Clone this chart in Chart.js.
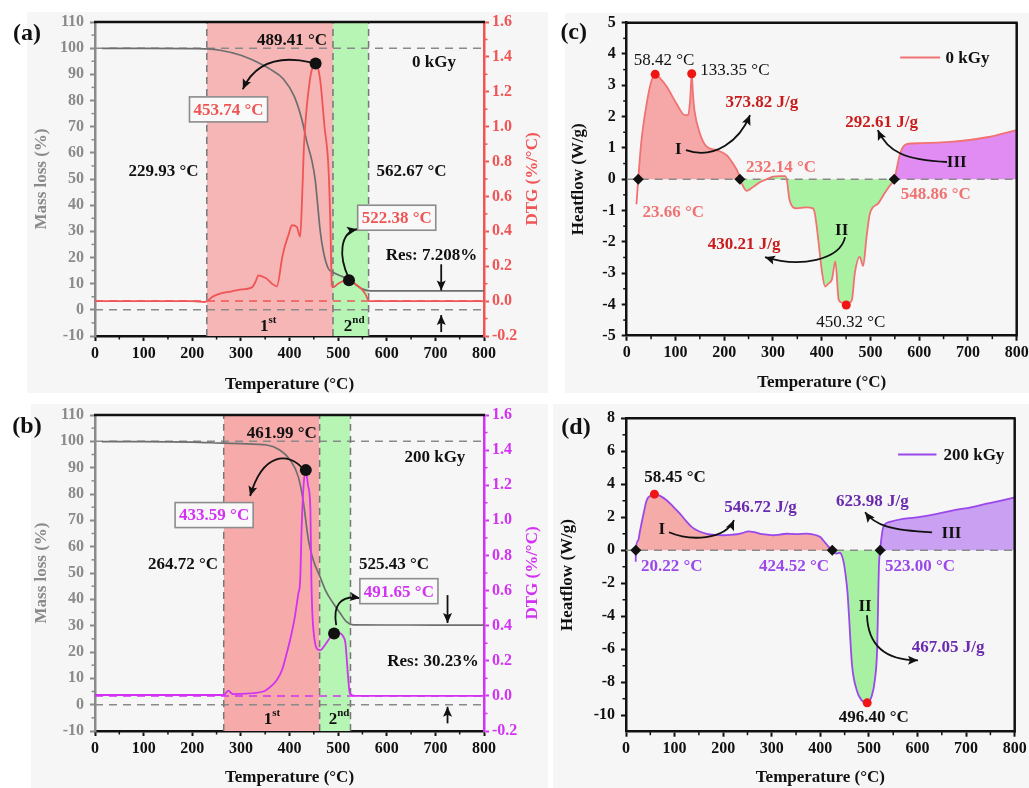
<!DOCTYPE html>
<html>
<head>
<meta charset="utf-8">
<script src="https://cdn.jsdelivr.net/npm/chart.js@4.4.1/dist/chart.umd.min.js"></script>
<style>
  body { margin: 0; background: #fff; width: 1029px; height: 788px; position: relative; overflow: hidden; }
  .bg { position: absolute; background: #f6f6f6; }
  canvas { position: absolute; }
</style>
</head>
<body>
<div class="bg" style="left:27px;top:12px;width:521px;height:381px"></div>
<div class="bg" style="left:31px;top:404px;width:517px;height:384px"></div>
<div class="bg" style="left:565px;top:13px;width:464px;height:380px"></div>
<div class="bg" style="left:553px;top:404px;width:476px;height:384px"></div>
<canvas id="ca" width="560" height="395" style="left:0;top:0"></canvas>
<canvas id="cb" width="560" height="393" style="left:0;top:395px"></canvas>
<canvas id="cc" width="480" height="395" style="left:560px;top:0"></canvas>
<canvas id="cd" width="490" height="393" style="left:550px;top:395px"></canvas>
<script>
// ---- data: (a) 0 kGy TG / DTG ----
const aTgT = [15, 100, 200, 230, 257, 300, 333, 360, 387, 410, 425, 436, 446, 453, 458, 463, 470, 480, 490, 505, 524, 548, 566, 600, 700, 800];
const aTgY = [99.9, 99.9, 99.8, 99.7, 99.2, 97.3, 94.7, 92.0, 88.3, 81.5, 73.0, 64.0, 57.0, 49.5, 40.0, 30.4, 22.0, 15.7, 14.3, 13.0, 11.3, 8.1, 7.25, 7.22, 7.21, 7.208];
const aDtgT = [0, 100, 200, 226, 243, 257, 280, 298, 322, 330, 336, 345, 353, 364, 374, 385, 391, 398, 405, 415, 422, 426, 430, 442, 453.74, 463, 472, 480, 484, 487, 490, 500, 510, 522.38, 535, 548, 556, 564, 600, 700, 800];
const aDtgY = [0.0, 0.0, 0.0, -0.005, 0.027, 0.043, 0.055, 0.066, 0.077, 0.11, 0.148, 0.14, 0.129, 0.10, 0.085, 0.25, 0.32, 0.38, 0.435, 0.425, 0.37, 0.6, 0.9, 1.27, 1.362, 1.27, 1.0, 0.77, 0.45, 0.09, 0.08, 0.10, 0.115, 0.12, 0.10, 0.07, 0.04, 0.0, 0.0, 0.0, 0.0];
const aStages = [229.93, 489.41, 562.67];
const aPeakT = [453.74, 522.38];
const aPeakDtg = [1.362, 0.12];

// ---- data: (b) 200 kGy TG / DTG ----
const bTgT = [14, 100, 200, 263, 300, 353, 380, 401, 418, 428, 439, 449, 463, 475, 490, 505, 517, 531, 600, 700, 800];
const bTgY = [99.9, 99.9, 99.7, 99.3, 99.1, 98.6, 96.7, 93.0, 86.6, 77.6, 62.4, 54.8, 48.5, 43.0, 38.5, 34.5, 31.5, 30.3, 30.25, 30.24, 30.23];
const bDtgT = [0, 100, 200, 265, 274, 283, 300, 346, 360, 374, 385, 394, 403, 411, 418, 422, 425, 429, 433.59, 438, 443, 445, 447, 451, 456, 463, 473, 483, 491.65, 497, 505, 510, 515, 518, 521, 524, 535, 600, 700, 800];
const bDtgY = [0.005, 0.005, 0.005, 0.005, 0.03, 0.01, 0.012, 0.025, 0.05, 0.09, 0.15, 0.24, 0.34, 0.45, 0.58, 0.66, 0.96, 1.2, 1.286, 1.2, 1.06, 0.66, 0.47, 0.33, 0.27, 0.26, 0.29, 0.33, 0.355, 0.36, 0.355, 0.34, 0.30, 0.20, 0.09, 0.015, 0.0, 0.0, 0.0, 0.0];
const bStages = [264.72, 461.99, 525.43];
const bPeakT = [433.59, 491.65];
const bPeakDtg = [1.286, 0.355];

// ---- data: (c) 0 kGy heat flow ----
const cT = [20, 23.66, 30, 41, 50, 58.42, 70, 82, 102, 119, 126, 130, 133.35, 136, 139, 150, 164, 184, 205, 218, 229, 232.14, 238, 246, 260, 273, 290, 301, 315, 325, 329, 334, 348, 368, 382, 386, 393, 400, 407, 414, 421, 428, 435, 443, 450.32, 457, 462, 468, 478, 485, 492, 499, 516, 529, 540, 548.86, 561, 574, 602, 670, 739, 800];
const cY = [-0.8, 0, 1.2, 2.42, 3.1, 3.35, 3.2, 2.96, 2.42, 2.05, 2.05, 2.5, 3.37, 2.7, 2.2, 1.47, 1.04, 0.93, 0.77, 0.5, 0.19, 0, -0.2, -0.37, -0.24, -0.1, 0.02, 0.08, 0.1, 0.1, -0.08, -0.66, -0.93, -0.9, -0.93, -1.1, -1.94, -2.9, -3.43, -3.33, -3.2, -2.63, -3.86, -3.95, -4.02, -3.95, -3.86, -3.0, -2.48, -2.77, -1.84, -1.09, -0.77, -0.45, -0.2, 0, 0.83, 1.12, 1.15, 1.2, 1.34, 1.57];
const cOnsetT = [23.66, 232.14, 548.86];
const cPeakT = [58.42, 133.35, 450.32];
const cPeakY = [3.35, 3.37, -4.02];

// ---- data: (d) 200 kGy heat flow ----
const dT = [20, 20.22, 25, 29, 36, 42.6, 50, 58.45, 70, 83.6, 97, 111, 123, 135, 150, 166, 183, 200, 215, 228, 240, 252, 264, 276, 290, 303, 316, 330, 350, 372, 392, 400, 406, 413, 420, 424.52, 429, 433.6, 440, 447, 452, 456, 459, 465, 475, 485, 496.4, 505, 512, 517, 519, 520.5, 523, 529.6, 543, 570, 605, 640, 673.6, 710, 742, 770, 800];
const dY = [-0.7, 0, 0.6, 1.2, 2.2, 3.03, 3.3, 3.4, 3.3, 3.03, 2.65, 2.22, 1.8, 1.42, 1.15, 1.0, 0.93, 0.91, 0.93, 0.97, 1.05, 1.15, 1.1, 1.0, 0.95, 0.91, 0.95, 1.0, 0.98, 1.01, 0.91, 0.8, 0.6, 0.35, 0.1, 0, -0.15, -0.2, -0.15, -0.6, -1.5, -2.6, -4.0, -6.9, -8.5, -9.1, -9.25, -8.9, -7.9, -5.9, -3.0, -1.0, 0, 1.41, 1.72, 1.9, 2.02, 2.2, 2.42, 2.6, 2.83, 3.0, 3.2];
const dOnsetT = [20.22, 424.52, 523.00];
const dPeakT = [58.45, 496.40];
const dPeakY = [3.4, -9.25];

// ---- styling ----
const SERIF = '"Liberation Serif", "Times New Roman", serif';
const INK = '#111';
const GRAY = '#8a8a8a';
const RED_A = '#f05555';
const MAG_B = '#d232f2';
const RED_C = '#f07272';
const DARKRED = '#c81c1c';
const VIO_D = '#9a48ea';
const DARKVIO = '#6a2ab0';
const AXW = 2.5;

Chart.defaults.font.family = SERIF;
Chart.defaults.font.weight = 'bold';
Chart.defaults.font.size = 16;
Chart.defaults.color = INK;
Chart.defaults.animation = false;
Chart.defaults.plugins.legend.display = false;
Chart.defaults.plugins.tooltip.enabled = false;

function pts(xs, ys) { return xs.map((x, i) => ({x: x, y: ys[i]})); }
function part(xs, ys, lo, hi) { return pts(xs, ys).filter(p => p.x >= lo && p.x <= hi); }
function fixW(w) { return s => { s.width = w; }; }
function fixH(h) { return s => { s.height = h; }; }

function axis(color, extra) {
  return Object.assign({
    grid: { drawOnChartArea: false, tickLength: 5, tickColor: color, tickWidth: 2 },
    border: { color: color, width: AXW }
  }, extra);
}

// decorations: minor ticks, frame, right title, notes, arrows, legend line
const deco = {
  id: 'deco',
  afterDatasetsDraw(chart, args, o) {
    const ctx = chart.ctx;
    const xs = chart.scales.x, ys = chart.scales.y;
    const X = v => xs.getPixelForValue(v), Y = v => ys.getPixelForValue(v);
    ctx.save();
    // arrows
    (o.arrows || []).forEach(a => {
      const p = a.map(q => [X(q[0]), Y(q[1])]);
      ctx.strokeStyle = INK; ctx.fillStyle = INK; ctx.lineWidth = 1.8;
      ctx.beginPath();
      ctx.moveTo(p[0][0], p[0][1]);
      if (p.length === 4) ctx.bezierCurveTo(p[1][0], p[1][1], p[2][0], p[2][1], p[3][0], p[3][1]);
      else ctx.lineTo(p[1][0], p[1][1]);
      ctx.stroke();
      const e = p[p.length - 1], c = p[p.length - 2];
      const ang = Math.atan2(e[1] - c[1], e[0] - c[0]);
      const L = 10, W = 4.5;
      const bx = e[0] - (L - 2) * Math.cos(ang), by = e[1] - (L - 2) * Math.sin(ang);
      ctx.beginPath();
      ctx.moveTo(e[0], e[1]);
      ctx.lineTo(e[0] - L * Math.cos(ang) + W * Math.sin(ang), e[1] - L * Math.sin(ang) - W * Math.cos(ang));
      ctx.lineTo(bx, by);
      ctx.lineTo(e[0] - L * Math.cos(ang) - W * Math.sin(ang), e[1] - L * Math.sin(ang) + W * Math.cos(ang));
      ctx.closePath();
      ctx.fill();
    });
    // legend sample
    if (o.legend) {
      const g = o.legend;
      ctx.strokeStyle = g.color; ctx.lineWidth = 2;
      ctx.beginPath(); ctx.moveTo(X(g.x1), Y(g.y)); ctx.lineTo(X(g.x2), Y(g.y)); ctx.stroke();
      drawText(ctx, {t: g.text}, X(g.tx), Y(g.y));
    }
    // texts
    (o.texts || []).forEach(n => drawText(ctx, n, X(n.x), Y(n.y)));
    ctx.restore();
  },
  afterDraw(chart, args, o) {
    const ctx = chart.ctx, ca = chart.chartArea;
    ctx.save();
    // minor ticks
    Object.values(chart.scales).forEach(s => {
      const t = s.ticks;
      ctx.strokeStyle = s.options.border.color; ctx.lineWidth = 1.5;
      for (let i = 0; i < t.length - 1; i++) {
        const p = s.getPixelForValue((t[i].value + t[i + 1].value) / 2);
        ctx.beginPath();
        if (s.axis === 'x') { ctx.moveTo(p, s.top); ctx.lineTo(p, s.top + 3.5); }
        else if (s.position === 'left') { ctx.moveTo(s.right, p); ctx.lineTo(s.right - 3.5, p); }
        else { ctx.moveTo(s.left, p); ctx.lineTo(s.left + 3.5, p); }
        ctx.stroke();
      }
    });
    // frame
    ctx.strokeStyle = INK; ctx.lineWidth = AXW;
    ctx.beginPath(); ctx.moveTo(ca.left - 1, ca.top); ctx.lineTo(ca.right + 1, ca.top); ctx.stroke();
    if (o.rightFrame) {
      ctx.beginPath(); ctx.moveTo(ca.right, ca.top); ctx.lineTo(ca.right, ca.bottom + 1); ctx.stroke();
    }
    // right axis title, read bottom to top
    if (o.rtitle) {
      ctx.translate(ca.right + 49, (ca.top + ca.bottom) / 2);
      ctx.rotate(-Math.PI / 2);
      ctx.font = 'bold 17px ' + SERIF;
      ctx.fillStyle = o.rtitle.color; ctx.textAlign = 'center'; ctx.textBaseline = 'middle';
      ctx.fillText(o.rtitle.text, 0, 0);
      ctx.setTransform(1, 0, 0, 1, 0, 0);
    }
    // panel letter
    if (o.panel) {
      ctx.font = 'bold 24px ' + SERIF;
      ctx.fillStyle = INK; ctx.textAlign = 'center'; ctx.textBaseline = 'middle';
      ctx.fillText(o.panel.t, ca.left + o.panel.dx, ca.top + o.panel.dy);
    }
    ctx.restore();
  }
};

function drawText(ctx, n, x, y) {
  const size = n.size || 17;
  const w = n.w || 'bold';
  ctx.font = w + ' ' + size + 'px ' + SERIF;
  ctx.textBaseline = 'middle';
  if (n.sup) {
    const w1 = ctx.measureText(n.t).width;
    ctx.font = w + ' ' + Math.round(size * 0.65) + 'px ' + SERIF;
    const w2 = ctx.measureText(n.sup).width;
    const x0 = x - (w1 + w2) / 2;
    ctx.fillStyle = n.c || INK; ctx.textAlign = 'left';
    ctx.fillText(n.sup, x0 + w1, y - size * 0.3);
    ctx.font = w + ' ' + size + 'px ' + SERIF;
    ctx.fillText(n.t, x0, y + 1);
    return;
  }
  ctx.textAlign = 'center';
  if (n.box) {
    const bw = ctx.measureText(n.t).width + 8, bh = size + 8;
    ctx.fillStyle = '#f9f9f9'; ctx.fillRect(x - bw / 2, y - bh / 2, bw, bh);
    ctx.strokeStyle = '#8c8c8c'; ctx.lineWidth = 1.6; ctx.strokeRect(x - bw / 2, y - bh / 2, bw, bh);
  }
  ctx.fillStyle = n.c || INK;
  ctx.fillText(n.t, x, y + 1);
}

// ---- TG / DTG panels ----
function tgChart(id, d) {
  const el = document.getElementById(id);
  const H = el.height;
  const line = (data, color, axisId, width, dash, order) => ({
    data: data, yAxisID: axisId, borderColor: color, borderWidth: width, borderDash: dash || [],
    pointRadius: 0, fill: false, order: order, cubicInterpolationMode: 'monotone'
  });
  const band = (lo, hi, color) => ({
    data: [{x: lo, y: 110}, {x: hi, y: 110}], yAxisID: 'y', borderWidth: 0, pointRadius: 0,
    fill: 'start', backgroundColor: color, order: 20
  });
  const datasets = [
    band(d.stages[0], d.stages[1], d.pink),
    band(d.stages[1], d.stages[2], d.green),
    ...d.stages.map(v => line([{x: v, y: -10}, {x: v, y: 110}], '#777', 'y', 1.5, [7, 5], 10)),
    line([{x: 0, y: 100}, {x: 800, y: 100}], '#8a8a8a', 'y', 1.5, [8, 6], 10),
    line([{x: 0, y: 0}, {x: 800, y: 0}], '#8a8a8a', 'y', 1.5, [8, 6], 10),
    line([{x: 0, y: 0}, {x: 800, y: 0}], d.dtgColor, 'y2', 1.5, [8, 6], 9),
    line(pts(d.tgT, d.tgY), '#6e6e6e', 'y', 1.7, null, 3),
    line(pts(d.dtgT, d.dtgY), d.dtgColor, 'y2', 1.8, null, 2),
    { data: pts(d.peakT, d.peakDtg), yAxisID: 'y2', showLine: false, pointRadius: 6,
      pointBackgroundColor: INK, pointBorderWidth: 0, order: 1 }
  ];
  return new Chart(el, {
    type: 'line',
    data: { datasets: datasets },
    options: {
      responsive: false, devicePixelRatio: 1,
      layout: { padding: { top: d.top, left: 0, right: 0, bottom: 0 } },
      scales: {
        x: axis(INK, { type: 'linear', min: 0, max: 800, afterFit: fixH(H - d.bottom),
          ticks: { stepSize: 100, color: INK, maxRotation: 0, padding: 3 },
          title: { display: true, text: 'Temperature (°C)', color: INK, font: { size: 17 }, padding: 0 } }),
        y: axis(GRAY, { position: 'left', min: -10, max: 110, afterFit: fixW(95),
          ticks: { stepSize: 10, color: GRAY, padding: 6 },
          title: { display: true, text: 'Mass loss (%)', color: GRAY, font: { size: 17 }, padding: { top: 31 } } }),
        y2: axis(d.dtgColor, { position: 'right', min: -0.2, max: 1.6, afterFit: fixW(76),
          ticks: { stepSize: 0.2, color: d.dtgColor, padding: 3, callback: v => v.toFixed(1) } })
      },
      plugins: { deco: { texts: d.texts, arrows: d.arrows, panel: d.panel,
        rtitle: { text: 'DTG (%/°C)', color: d.dtgColor } } }
    },
    plugins: [deco]
  });
}

// ---- heat flow panels ----
function hfChart(id, d) {
  const el = document.getElementById(id);
  const H = el.height;
  const fillPart = (lo, hi, color) => ({
    data: part(d.T, d.Y, lo, hi), borderWidth: 0, pointRadius: 0, fill: 'origin',
    backgroundColor: color, order: 20, cubicInterpolationMode: 'monotone'
  });
  const on = d.onset;
  const datasets = [
    fillPart(on[0], on[1], d.fills[0]),
    fillPart(on[1], on[2], d.fills[1]),
    fillPart(on[2], 800, d.fills[2]),
    { data: [{x: 0, y: 0}, {x: 800, y: 0}], borderColor: '#8a8a8a', borderWidth: 1.5, borderDash: [8, 6],
      pointRadius: 0, order: 10 },
    { data: pts(d.T, d.Y), borderColor: d.color, borderWidth: 1.8, pointRadius: 0, fill: false,
      order: 3, cubicInterpolationMode: 'monotone' },
    { data: on.map(v => ({x: v, y: 0})), showLine: false, pointStyle: 'rectRot', pointRadius: 5.5,
      pointBackgroundColor: INK, pointBorderWidth: 0, order: 2 },
    { data: pts(d.peakT, d.peakY), showLine: false, pointRadius: 4.5,
      pointBackgroundColor: '#f01515', pointBorderWidth: 0, order: 1 }
  ];
  return new Chart(el, {
    type: 'line',
    data: { datasets: datasets },
    options: {
      responsive: false, devicePixelRatio: 1,
      layout: { padding: { top: d.top, left: 0, right: d.right, bottom: 0 } },
      scales: {
        x: axis(INK, { type: 'linear', min: 0, max: 800, afterFit: fixH(H - d.bottom),
          ticks: { stepSize: 100, color: INK, maxRotation: 0, padding: 3 },
          title: { display: true, text: 'Temperature (°C)', color: INK, font: { size: 17 }, padding: { bottom: d.xtPad } } }),
        y: axis(INK, { position: 'left', min: d.min, max: d.max, afterFit: fixW(d.left),
          ticks: { stepSize: d.step, color: INK, padding: 6, includeBounds: false },
          title: { display: true, text: 'Heatflow (W/g)', color: INK, font: { size: 17 }, padding: { top: d.ytPad } } })
      },
      plugins: { deco: { texts: d.texts, arrows: d.arrows, panel: d.panel, legend: d.legend, rightFrame: true } }
    },
    plugins: [deco]
  });
}

tgChart('ca', {
  tgT: aTgT, tgY: aTgY, dtgT: aDtgT, dtgY: aDtgY, stages: aStages, peakT: aPeakT, peakDtg: aPeakDtg,
  dtgColor: RED_A, pink: '#f7b6b6', green: '#b6f5b4', top: 22, bottom: 336,
  panel: { t: '(a)', dx: -68, dy: 12 },
  texts: [
    { t: '489.41 °C', x: 405, y: 103.4 },
    { t: '0 kGy', x: 697, y: 94.7 },
    { t: '453.74 °C', x: 274.6, y: 76.6, c: RED_A, box: true },
    { t: '229.93 °C', x: 141, y: 53.3 },
    { t: '562.67 °C', x: 651, y: 53.3 },
    { t: '522.38 °C', x: 620.5, y: 35.2, c: RED_A, box: true },
    { t: 'Res: 7.208%', x: 692, y: 21.2 },
    { t: '1', sup: 'st', x: 356, y: -5.9 },
    { t: '2', sup: 'nd', x: 533, y: -5.9 }
  ],
  arrows: [
    [[444, 94.6], [380, 97.2], [329, 94.6], [304, 84.3]],
    [[522, 12.0], [500, 20.8], [504, 29.6], [539, 30.8]],
    [[712, 17.4], [712, 7.4]],
    [[712, -8.5], [712, -2.0]]
  ]
});

tgChart('cb', {
  tgT: bTgT, tgY: bTgY, dtgT: bDtgT, dtgY: bDtgY, stages: bStages, peakT: bPeakT, peakDtg: bPeakDtg,
  dtgColor: MAG_B, pink: '#f7aaaa', green: '#b6f5b4', top: 20, bottom: 336,
  panel: { t: '(b)', dx: -68, dy: 12 },
  texts: [
    { t: '461.99 °C', x: 384, y: 103.4 },
    { t: '200 kGy', x: 699, y: 94.2 },
    { t: '433.59 °C', x: 245, y: 72, c: MAG_B, box: true },
    { t: '264.72 °C', x: 181, y: 53.7 },
    { t: '525.43 °C', x: 615, y: 53.7 },
    { t: '491.65 °C', x: 625, y: 43.1, c: MAG_B, box: true },
    { t: 'Res: 30.23%', x: 695, y: 16.9 },
    { t: '1', sup: 'st', x: 364, y: -5.2 },
    { t: '2', sup: 'nd', x: 502, y: -5.2 }
  ],
  arrows: [
    [[428, 89.5], [398, 96], [345, 96], [319, 79.2]],
    [[496, 30.2], [489, 37.8], [504, 41.6], [545, 40.5]],
    [[725, 41.6], [725, 31.0]],
    [[725, -7.1], [725, -0.8]]
  ]
});

hfChart('cc', {
  T: cT, Y: cY, onset: cOnsetT, peakT: cPeakT, peakY: cPeakY, color: RED_C,
  fills: ['#f6a8a8', '#a8f2a2', '#e08cf2'],
  min: -5, max: 5, step: 1, top: 22.7, bottom: 335.7, left: 66.7, right: 23.3, ytPad: 8, xtPad: 2,
  panel: { t: '(c)', dx: -53, dy: 10 },
  legend: { x1: 561, x2: 643, y: 3.89, tx: 699, text: '0 kGy', color: RED_C },
  texts: [
    { t: '58.42 °C', x: 76.6, y: 3.83, w: 'normal' },
    { t: '133.35 °C', x: 222, y: 3.49, w: 'normal' },
    { t: '373.82 J/g', x: 277.5, y: 2.48, c: DARKRED },
    { t: '292.61 J/g', x: 523, y: 1.84, c: DARKRED },
    { t: 'I', x: 106, y: 0.99 },
    { t: 'III', x: 677, y: 0.56 },
    { t: '232.14 °C', x: 316.5, y: 0.4, c: RED_C },
    { t: '548.86 °C', x: 634, y: -0.45, c: RED_C },
    { t: '23.66 °C', x: 95.6, y: -1.04, c: RED_C },
    { t: 'II', x: 441, y: -1.62 },
    { t: '430.21 J/g', x: 240.8, y: -2.05, c: DARKRED },
    { t: '450.32 °C', x: 459.7, y: -4.55, w: 'normal' }
  ],
  arrows: [
    [[121.6, 0.93], [181, 0.61], [232, 1.25], [253, 2.05]],
    [[657, 0.55], [571, 0.61], [536, 0.87], [515, 1.57]],
    [[448, -1.85], [437.5, -2.58], [355.5, -2.84], [283.7, -2.49]]
  ]
});

hfChart('cd', {
  T: dT, Y: dY, onset: dOnsetT, peakT: dPeakT, peakY: dPeakY, color: VIO_D,
  fills: ['#f5aca8', '#a8f0a2', '#c9a0f2'],
  min: -11, max: 8, step: 2, top: 23.3, bottom: 336.7, left: 76, right: 25.3, ytPad: 7, xtPad: 0,
  panel: { t: '(d)', dx: -50, dy: 9 },
  legend: { x1: 560, x2: 639, y: 5.8, tx: 716, text: '200 kGy', color: VIO_D },
  texts: [
    { t: '58.45 °C', x: 100.8, y: 4.44 },
    { t: '546.72 J/g', x: 276.8, y: 2.62, c: DARKVIO },
    { t: '623.98 J/g', x: 507, y: 3.03, c: DARKVIO },
    { t: 'I', x: 73.5, y: 1.31 },
    { t: 'III', x: 670, y: 1.05 },
    { t: '20.22 °C', x: 94, y: -0.91, c: VIO_D },
    { t: '424.52 °C', x: 345.7, y: -0.91, c: VIO_D },
    { t: '523.00 °C', x: 605, y: -0.91, c: VIO_D },
    { t: 'II', x: 492, y: -3.33 },
    { t: '467.05 J/g', x: 663, y: -5.86, c: DARKVIO },
    { t: '496.40 °C', x: 510, y: -10.1 }
  ],
  arrows: [
    [[88.5, 1.09], [131.7, 0.55], [203.8, 0.61], [222.3, 1.82]],
    [[630, 1.09], [543, 1.21], [512.5, 1.52], [492, 2.3]],
    [[496, -3.94], [498, -5.76], [533, -6.67], [601, -6.67]]
  ]
});
</script>
</body>
</html>
